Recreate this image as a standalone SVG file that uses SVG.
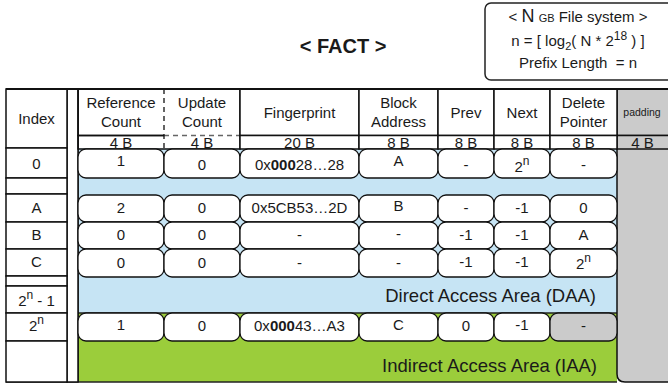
<svg xmlns="http://www.w3.org/2000/svg" width="668" height="385" viewBox="0 0 668 385">
  <style>
    text { font-family: "Liberation Sans", Arial, Helvetica, sans-serif; fill: #1a1a1a; }
    .c { font-size: 15px; text-anchor: middle; }
    .sm { font-size: 11px; }
    .sup { font-size: 12px; }
    .cell { fill: #ffffff; stroke: #111111; stroke-width: 1.5; }
    .gray { fill: #cbcbcb; stroke: #111111; stroke-width: 1.5; }
    .box { fill: #ffffff; stroke: #111111; stroke-width: 1.3; }
    .boxg { fill: #cbcbcb; stroke: #111111; stroke-width: 1.3; }
    .area { font-size: 18.5px; text-anchor: end; }
    .dash { fill: none; stroke: #111111; stroke-width: 1.3; stroke-dasharray: 5 4; }
    .dashg { fill: none; stroke: #666666; stroke-width: 1.3; stroke-dasharray: 5 4; }
  </style>

  <rect x="0" y="0" width="668" height="385" fill="#ffffff"/>

  <!-- title -->
  <g id="title">
    <text x="343" y="53" font-size="20" font-weight="bold" text-anchor="middle">&lt; FACT &gt;</text>
  </g>

  <!-- file system parameters -->
  <g id="params">
    <rect x="485" y="3" width="192" height="77" rx="6" fill="#ffffff" stroke="#222222" stroke-width="1.5"/>
    <text x="578" y="22" class="c">&lt; <tspan font-size="18">N</tspan> <tspan class="sm">GB</tspan> File system &gt;</text>
    <text x="578" y="46" class="c">n = [ log<tspan class="sm" dy="4">2</tspan><tspan dy="-4">( N * 2</tspan><tspan class="sup" dy="-6">18</tspan><tspan dy="6"> ) ]</tspan></text>
    <text x="578" y="68" class="c" xml:space="preserve">Prefix Length  = n</text>
  </g>

  <!-- storage areas -->
  <g id="areas">
    <rect x="78" y="148.5" width="539" height="164.5" fill="#c6e4f4" stroke="none"/>
    <rect x="78" y="313" width="539" height="69" fill="#9bcd3b" stroke="none"/>
    <line x1="78" y1="313" x2="617" y2="313" stroke="#222222" stroke-width="1.3"/>
    <line x1="6" y1="382" x2="617" y2="382" stroke="#222222" stroke-width="1.5"/>
    <line x1="78" y1="89" x2="78" y2="382" stroke="#111111" stroke-width="1.5"/>
    <text x="596" y="302" class="area">Direct Access Area (DAA)</text>
    <text x="597" y="372" class="area">Indirect Access Area (IAA)</text>
  </g>

  <!-- padding column -->
  <g id="padding">
    <path d="M617 135.5 V374 Q617 382 625 382 H672 V135.5 Z" class="gray"/>
    <rect x="617" y="89" width="55" height="46.5" class="gray"/>
    <rect x="617" y="135.5" width="55" height="13.5" class="gray"/>
    <text x="642" y="116" font-size="10.5" text-anchor="middle">padding</text>
    <text x="642.5" y="147.5" class="c">4 B</text>
  </g>

  <!-- index column -->
  <g id="index">
    <rect x="67" y="89" width="11" height="293" class="cell"/>
    <rect x="6" y="89" width="61" height="59" class="cell"/>
    <text x="36.5" y="124" class="c">Index</text>
    <rect x="6" y="148" width="61" height="30" class="cell"/>
    <text x="36.5" y="169" class="c">0</text>
    <rect x="6" y="178" width="61" height="16" class="cell"/>
    <rect x="6" y="194" width="61" height="28" class="cell"/>
    <text x="36.5" y="213" class="c">A</text>
    <rect x="6" y="222" width="61" height="27" class="cell"/>
    <text x="36.5" y="240" class="c">B</text>
    <rect x="6" y="249" width="61" height="27" class="cell"/>
    <text x="36.5" y="267" class="c">C</text>
    <rect x="6" y="276" width="61" height="10" class="cell"/>
    <rect x="6" y="286" width="61" height="27" class="cell"/>
    <text x="36.5" y="306" class="c">2<tspan class="sup" dy="-7">n</tspan><tspan dy="7"> - 1</tspan></text>
    <rect x="6" y="313" width="61" height="28" class="cell"/>
    <text x="36.5" y="331" class="c">2<tspan class="sup" dy="-7">n</tspan></text>
    <rect x="6" y="341" width="61" height="41" class="cell"/>
  </g>

  <!-- field headers -->
  <g id="header">
    <!-- reference / update counts share one dashed split -->
    <path d="M164 89 H78 V135.5 H164" fill="none" stroke="#111111" stroke-width="1.5"/>
    <path d="M164 89 H240 V135.5" fill="none" stroke="#111111" stroke-width="1.5"/>
    <line x1="164" y1="135.5" x2="240" y2="135.5" class="dashg"/>
    <line x1="164" y1="89" x2="164" y2="149" class="dash"/>
    <path d="M164 135.5 H78 V149 H164" fill="none" stroke="#111111" stroke-width="1.5"/>
    <path d="M164 149 H240 V135.5" fill="none" stroke="#111111" stroke-width="1.5"/>
    <text x="121" y="108" class="c">Reference</text>
    <text x="121" y="127" class="c">Count</text>
    <text x="202" y="108" class="c">Update</text>
    <text x="202" y="127" class="c">Count</text>
    <text x="121" y="147.5" class="c">4 B</text>
    <text x="202" y="147.5" class="c">4 B</text>

    <rect x="240" y="89" width="119" height="46.5" class="cell"/>
    <rect x="240" y="135.5" width="119" height="13.5" class="cell"/>
    <text x="299.5" y="118" class="c">Fingerprint</text>
    <text x="299.5" y="147.5" class="c">20 B</text>

    <rect x="359" y="89" width="79" height="46.5" class="cell"/>
    <rect x="359" y="135.5" width="79" height="13.5" class="cell"/>
    <text x="398.5" y="108" class="c">Block</text>
    <text x="398.5" y="127" class="c">Address</text>
    <text x="398.5" y="147.5" class="c">8 B</text>

    <rect x="438" y="89" width="56" height="46.5" class="cell"/>
    <rect x="438" y="135.5" width="56" height="13.5" class="cell"/>
    <text x="466" y="118" class="c">Prev</text>
    <text x="466" y="147.5" class="c">8 B</text>

    <rect x="494" y="89" width="56" height="46.5" class="cell"/>
    <rect x="494" y="135.5" width="56" height="13.5" class="cell"/>
    <text x="522" y="118" class="c">Next</text>
    <text x="522" y="147.5" class="c">8 B</text>

    <rect x="550" y="89" width="67" height="46.5" class="cell"/>
    <rect x="550" y="135.5" width="67" height="13.5" class="cell"/>
    <text x="583.5" y="108" class="c">Delete</text>
    <text x="583.5" y="127" class="c">Pointer</text>
    <text x="583.5" y="147.5" class="c">8 B</text>
    <line x1="6" y1="89" x2="668" y2="89" stroke="#111111" stroke-width="1.8"/>
  </g>

  <!-- entry 0 -->
  <g id="row-0">
    <rect x="78" y="149" width="86" height="29" rx="8" class="box"/>
    <rect x="164" y="149" width="76" height="29" rx="8" class="box"/>
    <rect x="240" y="149" width="119" height="29" rx="8" class="box"/>
    <rect x="359" y="149" width="79" height="29" rx="8" class="box"/>
    <rect x="438" y="149" width="56" height="29" rx="8" class="box"/>
    <rect x="494" y="149" width="56" height="29" rx="8" class="box"/>
    <rect x="550" y="149" width="67" height="29" rx="8" class="box"/>
    <text x="121" y="166" class="c">1</text>
    <text x="202" y="170" class="c">0</text>
    <text x="299.5" y="170" class="c">0x<tspan font-weight="bold">000</tspan>28…28</text>
    <text x="398.5" y="166" class="c">A</text>
    <text x="466" y="170" class="c">-</text>
    <text x="522" y="172" class="c">2<tspan class="sup" dy="-7">n</tspan></text>
    <text x="583.5" y="170" class="c">-</text>
  </g>

  <!-- entry A -->
  <g id="row-a">
    <rect x="78" y="195" width="86" height="27" rx="8" class="box"/>
    <rect x="164" y="195" width="76" height="27" rx="8" class="box"/>
    <rect x="240" y="195" width="119" height="27" rx="8" class="box"/>
    <rect x="359" y="195" width="79" height="27" rx="8" class="box"/>
    <rect x="438" y="195" width="56" height="27" rx="8" class="box"/>
    <rect x="494" y="195" width="56" height="27" rx="8" class="box"/>
    <rect x="550" y="195" width="67" height="27" rx="8" class="box"/>
    <text x="121" y="213" class="c">2</text>
    <text x="202" y="213" class="c">0</text>
    <text x="299.5" y="213" class="c">0x5CB53…2D</text>
    <text x="398.5" y="211" class="c">B</text>
    <text x="466" y="213" class="c">-</text>
    <text x="522" y="213" class="c">-1</text>
    <text x="583.5" y="213" class="c">0</text>
  </g>

  <!-- entry B -->
  <g id="row-b">
    <rect x="78" y="222" width="86" height="27" rx="8" class="box"/>
    <rect x="164" y="222" width="76" height="27" rx="8" class="box"/>
    <rect x="240" y="222" width="119" height="27" rx="8" class="box"/>
    <rect x="359" y="222" width="79" height="27" rx="8" class="box"/>
    <rect x="438" y="222" width="56" height="27" rx="8" class="box"/>
    <rect x="494" y="222" width="56" height="27" rx="8" class="box"/>
    <rect x="550" y="222" width="67" height="27" rx="8" class="box"/>
    <text x="121" y="240" class="c">0</text>
    <text x="202" y="240" class="c">0</text>
    <text x="299.5" y="240" class="c">-</text>
    <text x="398.5" y="239" class="c">-</text>
    <text x="466" y="240" class="c">-1</text>
    <text x="522" y="240" class="c">-1</text>
    <text x="583.5" y="240" class="c">A</text>
  </g>

  <!-- entry C -->
  <g id="row-c">
    <rect x="78" y="249" width="86" height="28" rx="8" class="box"/>
    <rect x="164" y="249" width="76" height="28" rx="8" class="box"/>
    <rect x="240" y="249" width="119" height="28" rx="8" class="box"/>
    <rect x="359" y="249" width="79" height="28" rx="8" class="box"/>
    <rect x="438" y="249" width="56" height="28" rx="8" class="box"/>
    <rect x="494" y="249" width="56" height="28" rx="8" class="box"/>
    <rect x="550" y="249" width="67" height="28" rx="8" class="box"/>
    <text x="121" y="268" class="c">0</text>
    <text x="202" y="268" class="c">0</text>
    <text x="299.5" y="268" class="c">-</text>
    <text x="398.5" y="268" class="c">-</text>
    <text x="466" y="267" class="c">-1</text>
    <text x="522" y="267" class="c">-1</text>
    <text x="583.5" y="269" class="c">2<tspan class="sup" dy="-7">n</tspan></text>
  </g>

  <!-- entry 2^n -->
  <g id="row-2n">
    <rect x="78" y="313" width="86" height="28" rx="8" class="box"/>
    <rect x="164" y="313" width="76" height="28" rx="8" class="box"/>
    <rect x="240" y="313" width="119" height="28" rx="8" class="box"/>
    <rect x="359" y="313" width="79" height="28" rx="8" class="box"/>
    <rect x="438" y="313" width="56" height="28" rx="8" class="box"/>
    <rect x="494" y="313" width="56" height="28" rx="8" class="box"/>
    <rect x="550" y="313" width="67" height="28" rx="8" class="boxg"/>
    <text x="121" y="330" class="c">1</text>
    <text x="202" y="331" class="c">0</text>
    <text x="299.5" y="331" class="c">0x<tspan font-weight="bold">000</tspan>43…A3</text>
    <text x="398.5" y="330" class="c">C</text>
    <text x="466" y="331" class="c">0</text>
    <text x="522" y="330" class="c">-1</text>
    <text x="583.5" y="331" class="c">-</text>
  </g>
</svg>
